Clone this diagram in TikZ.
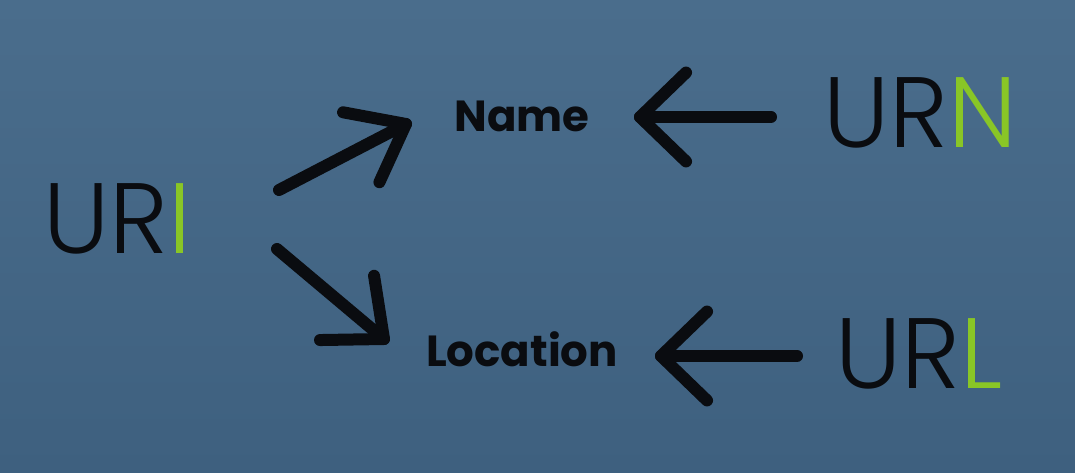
\documentclass[tikz,border=0pt]{standalone}
\usepackage{fontspec}
\setmainfont{Poppins}
\newfontfamily\lightfont{Poppins Light}
\usetikzlibrary{calc}
\definecolor{boardtop}{RGB}{74,109,140}
\definecolor{boardbottom}{RGB}{62,96,127}
\definecolor{lime}{RGB}{137,198,38}
\definecolor{ink}{RGB}{10,12,16}
\tikzset{
  bigword/.style={inner sep=0pt, anchor=base west, text=ink, font=\lightfont\fontsize{100}{100}\selectfont},
  smallword/.style={inner sep=0pt, anchor=base, text=ink, font=\bfseries\fontsize{43.5}{43.5}\selectfont},
  chalkarrow/.style={draw=ink, line width=12pt, line cap=round, line join=round}
}
\begin{document}
\begin{tikzpicture}[x=1pt,y=-1pt]
  \useasboundingbox (0,0) rectangle (1075,473);
  \shade[top color=boardtop, bottom color=boardbottom] (0,0) rectangle (1075,473);
  % words
  \node[bigword] (uri) at (43,253) {UR\textcolor{lime}{I}};
  \node[bigword] (urn) at (823,148) {UR\textcolor{lime}{N}};
  \node[bigword] (url) at (835,388) {UR\textcolor{lime}{L}};
  \node[smallword] (name) at (522,132) {Name};
  \node[smallword] (loc) at (522,366) {Location};
  % arrow endpoints
  \coordinate (t1) at (279,190);
  \coordinate (h1) at (406,124);
  \coordinate (t2) at (277,249);
  \coordinate (h2) at (384,339);
  \coordinate (t3) at (771,117);
  \coordinate (h3) at (640,117);
  \coordinate (t4) at (797,356);
  \coordinate (h4) at (661,356);
  % arrows
  \foreach \t/\h/\a in {t1/h1/38, t2/h2/41, t3/h3/44, t4/h4/44}{
    \draw[chalkarrow] (\t) -- (\h);
    \draw[chalkarrow] ($(\h)!64pt!\a:(\t)$) -- (\h) -- ($(\h)!64pt!-\a:(\t)$);
  }
\end{tikzpicture}
\end{document}
